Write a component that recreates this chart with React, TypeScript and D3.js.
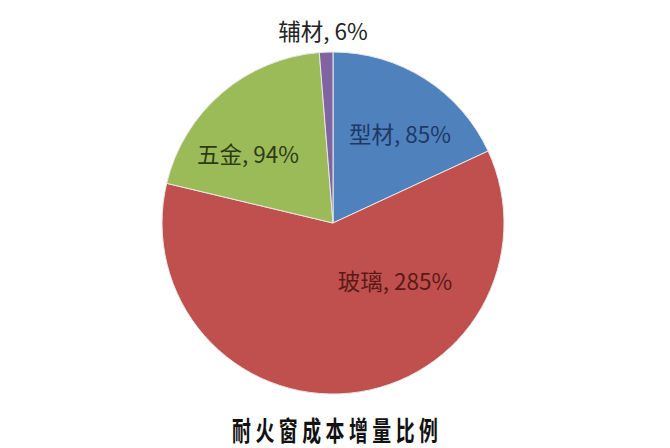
import React from 'react';
import * as d3 from 'd3';

// 耐火窗成本增量比例 — values
const categories = ['型材', '玻璃', '五金', '辅材'];
const values = [85, 285, 94, 6];
const sliceColors = ['#4f81bd', '#c0504d', '#9bbb59', '#8064a2'];
const labelColors = ['#1f3864', '#5a1a18', '#2e3b14', '#222222'];
const title = '耐火窗成本增量比例';

// label anchors (x, baseline y), placed like Excel's "best fit"
const labelAnchors: [number, number][] = [
  [400, 143],
  [395, 290],
  [248, 163],
  [323, 40],
];

const width = 670;
const height = 448;
const cx = 333;
const cy = 223;
const radius = 171;

const App: React.FC = () => {
  const data = categories.map((c, i) => ({ name: c, value: values[i], i }));

  const pie = d3.pie<typeof data[number]>()
    .sort(null)
    .value(d => d.value)
    .startAngle(0)
    .endAngle(2 * Math.PI);

  const arc = d3.arc<d3.PieArcDatum<typeof data[number]>>()
    .innerRadius(0)
    .outerRadius(radius);

  const arcs = pie(data);

  return (
    <svg
      width={width}
      height={height}
      style={{ position: 'absolute', left: 0, top: 0, background: '#fff' }}
    >
      <g transform={`translate(${cx},${cy})`}>
        {arcs.map(a => (
          <path
            key={a.data.name}
            d={arc(a) || ''}
            fill={sliceColors[a.data.i]}
            stroke="#e8e8e8"
            strokeWidth={1}
          />
        ))}
      </g>
      {data.map(d => (
        <text
          key={d.name}
          x={labelAnchors[d.i][0]}
          y={labelAnchors[d.i][1]}
          textAnchor="middle"
          fill={labelColors[d.i]}
          style={{ fontFamily: '"Noto Sans CJK SC", "Noto Sans", sans-serif', fontSize: 22.5 }}
        >
          {`${d.name}, ${d.value}%`}
        </text>
      ))}
      {/* condensed title: squeeze glyphs horizontally, keep the wide gaps */}
      <g transform="translate(335,441) scale(0.7,1)">
        <text
          x={0}
          y={0}
          textAnchor="middle"
          textLength={294}
          lengthAdjust="spacing"
          fill="#111"
          style={{ fontFamily: '"Noto Sans CJK SC", sans-serif', fontSize: 27, fontWeight: 600 }}
        >
          {title}
        </text>
      </g>
    </svg>
  );
};

export default App;
